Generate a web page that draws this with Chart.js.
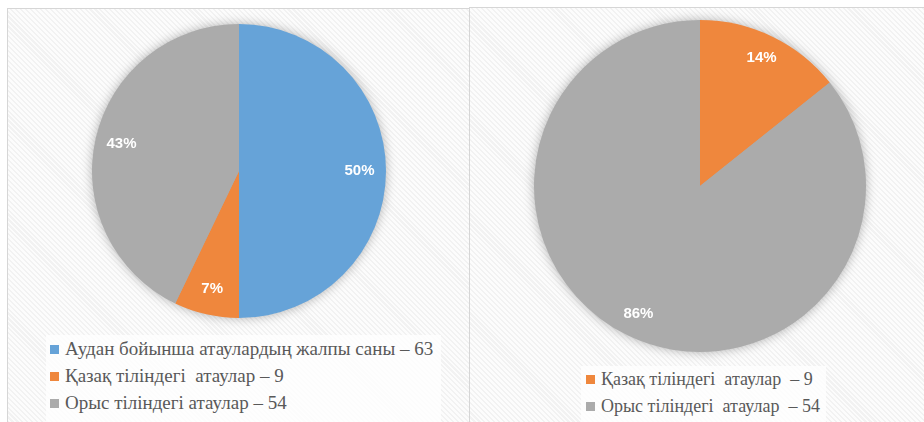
<!DOCTYPE html>
<html>
<head>
<meta charset="utf-8">
<script src="https://cdn.jsdelivr.net/npm/chart.js@4.4.0/dist/chart.umd.min.js"></script>
<style>
    body { margin: 0; width: 924px; height: 422px; background: #fff; position: relative; overflow: hidden; }
    .panel {
        position: absolute;
        background: repeating-linear-gradient(45deg, #f2f2f2 0px, #f2f2f2 1.5px, #fcfcfc 1.5px, #fcfcfc 3.5px);
        border-top: 1px solid #d6d6d6;
        border-left: 1px solid #d6d6d6;
    }
    #panelLeft { left: 7px; top: 8px; width: 462px; height: 414px; }
    #panelRight { left: 469px; top: 7px; width: 455px; height: 415px; }
    canvas { position: absolute; }
    .legend {
        position: absolute;
        background: rgba(255, 255, 255, 0.75);
        font-family: 'Liberation Serif', 'DejaVu Serif', serif;
        font-size: 18px;
        color: #595959;
    }
    #legendLeft { font-size: 19px; }
    .legend div { height: 27px; line-height: 27px; white-space: pre; }
    .legend span { display: inline-block; width: 9px; height: 9px; margin-right: 6px; vertical-align: 1px; }
</style>
</head>
<body>
<div id="panelLeft" class="panel">
    <canvas id="pieLeft" width="320" height="320" style="left:71px; top:2px; width:320px; height:320px;"></canvas>
    <div id="legendLeft" class="legend" style="left:38px; top:326px; width:391px; height:88px; padding-left:4px;"></div>
</div>
<div id="panelRight" class="panel">
    <canvas id="pieRight" width="360" height="360" style="left:50px; top:-2px; width:360px; height:360px;"></canvas>
    <div id="legendRight" class="legend" style="left:111px; top:358px; width:240px; height:57px; padding-left:5px;"></div>
</div>
<script>
// left chart
const leftLabels = ['Аудан бойынша атаулардың жалпы саны – 63', 'Қазақ тіліндегі  атаулар – 9', 'Орыс тіліндегі атаулар – 54'];
const leftValues = [63, 9, 54];
const leftColors = ['#66a3d8', '#ef873d', '#ababab'];

// right chart
const rightLabels = ['Қазақ тіліндегі  атаулар  – 9', 'Орыс тіліндегі  атаулар  – 54'];
const rightValues = [9, 54];
const rightColors = ['#ef873d', '#ababab'];

// soft shadow behind the whole pie
const pieShadow = {
    id: 'pieShadow',
    beforeDatasetsDraw(chart) {
        const arc = chart.getDatasetMeta(0).data[0];
        if (!arc) return;
        const ctx = chart.ctx;
        ctx.save();
        ctx.shadowColor = 'rgba(0, 0, 0, 0.35)';
        ctx.shadowBlur = 12;
        ctx.fillStyle = '#ababab';
        ctx.beginPath();
        ctx.arc(arc.x, arc.y, arc.outerRadius - 1, 0, Math.PI * 2);
        ctx.fill();
        ctx.restore();
    }
};

// percent labels inside the slices
const percentLabels = {
    id: 'percentLabels',
    afterDatasetsDraw(chart, args, opts) {
        const ctx = chart.ctx;
        const values = chart.data.datasets[0].data;
        const total = values.reduce((a, b) => a + b, 0);
        ctx.save();
        ctx.fillStyle = '#ffffff';
        ctx.font = 'bold 15px "Liberation Sans", Arial, sans-serif';
        ctx.textAlign = 'center';
        ctx.textBaseline = 'middle';
        chart.getDatasetMeta(0).data.forEach((arc, i) => {
            const mid = (arc.startAngle + arc.endAngle) / 2;
            const d = arc.outerRadius * opts.ratio;
            const x = arc.x + Math.cos(mid) * d;
            const y = arc.y + Math.sin(mid) * d;
            ctx.fillText(Math.round(values[i] / total * 100) + '%', x, y);
        });
        ctx.restore();
    }
};

function createPie(canvasId, labels, values, colors, pad, ratio) {
    const ctx = document.getElementById(canvasId).getContext('2d');
    return new Chart(ctx, {
        type: 'pie',
        data: {
            labels: labels,
            datasets: [{
                data: values,
                backgroundColor: colors,
                borderWidth: 0
            }]
        },
        options: {
            responsive: false,
            animation: false,
            layout: { padding: pad },
            plugins: {
                legend: { display: false },
                tooltip: { enabled: false },
                percentLabels: { ratio: ratio }
            }
        },
        plugins: [pieShadow, percentLabels]
    });
}

function buildLegend(id, labels, colors) {
    const box = document.getElementById(id);
    labels.forEach((text, i) => {
        const row = document.createElement('div');
        const mark = document.createElement('span');
        mark.style.background = colors[i];
        row.appendChild(mark);
        row.appendChild(document.createTextNode(text));
        box.appendChild(row);
    });
}

createPie('pieLeft', leftLabels, leftValues, leftColors, 13, 0.82);
createPie('pieRight', rightLabels, rightValues, rightColors, 14, 0.855);
buildLegend('legendLeft', leftLabels, leftColors);
buildLegend('legendRight', rightLabels, rightColors);
</script>
</body>
</html>
